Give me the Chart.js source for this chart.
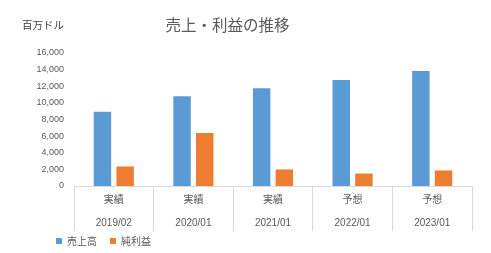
<!DOCTYPE html>
<html>
<head>
<meta charset="utf-8">
<script src="https://cdn.jsdelivr.net/npm/chart.js@4"></script>
<style>
  body { margin: 0; background: #fff; }
  #wrap { position: relative; width: 491px; height: 253px; font-family: "Noto Sans CJK JP", sans-serif; }
  #title { position: absolute; left: 0; width: 455px; top: 13px; text-align: center; font-size: 15.5px; color: #595959; }
  #unit { position: absolute; left: 22px; top: 17px; font-size: 10.5px; color: #404040; }
</style>
</head>
<body>
<div id="wrap">
  <canvas id="chart" width="491" height="253"></canvas>
  <div id="title">売上・利益の推移</div>
  <div id="unit">百万ドル</div>
</div>
<script>
// 年度と区分（実績/予想）
const periods = ['2019/02', '2020/01', '2021/01', '2022/01', '2023/01'];
const kinds = ['実績', '実績', '実績', '予想', '予想'];
// 値（百万ドル）
const sales = [8930, 10790, 11760, 12740, 13840];
const profit = [2350, 6390, 1990, 1500, 1870];
const yTicks = [0, 2000, 4000, 6000, 8000, 10000, 12000, 14000, 16000];

const grey = '#595959';
const lineGrey = '#d9d9d9';
const fam = "'Liberation Sans', 'Noto Sans CJK JP', sans-serif";

// 軸ラベルが箱の端で切れないように、軸の箱だけ広げる
const widenAxes = {
  id: 'widenAxes',
  afterLayout(chart) {
    chart.scales.y.left -= 25;
    chart.scales.x.bottom += 14;
  }
};

new Chart(document.getElementById('chart'), {
  type: 'bar',
  data: {
    labels: periods.map((p, i) => [kinds[i], p]),
    datasets: [
      { label: '売上高', data: sales, backgroundColor: '#5b9bd5' },
      { label: '純利益', data: profit, backgroundColor: '#ed7d31' }
    ]
  },
  options: {
    responsive: false,
    animation: false,
    categoryPercentage: 0.57,
    barPercentage: 0.77,
    layout: { padding: { left: 43, right: 19, top: 53, bottom: -3 } },
    scales: {
      x: {
        grid: { display: true, drawOnChartArea: false, drawTicks: true, tickLength: 45, color: lineGrey, offset: true },
        border: { display: true, color: lineGrey },
        ticks: {
          color: grey, padding: -42, maxRotation: 0, autoSkip: false,
          font: { family: fam, size: 10, lineHeight: 2.25 }
        },
        afterFit: s => { s.height = 37; }
      },
      y: {
        min: 0, max: 16000,
        grid: { display: false, drawTicks: false },
        border: { display: false },
        afterBuildTicks: s => { s.ticks = yTicks.map(v => ({ value: v })); },
        ticks: { color: grey, padding: 10, font: { family: fam, size: 9 } },
        afterFit: s => { s.width = 31; }
      }
    },
    plugins: {
      legend: {
        position: 'bottom', align: 'start',
        labels: { boxWidth: 6, boxHeight: 6, padding: 13, color: grey, font: { family: 'Noto Sans CJK JP', size: 10 } }
      },
      tooltip: { enabled: false }
    }
  },
  plugins: [widenAxes]
});
</script>
</body>
</html>
